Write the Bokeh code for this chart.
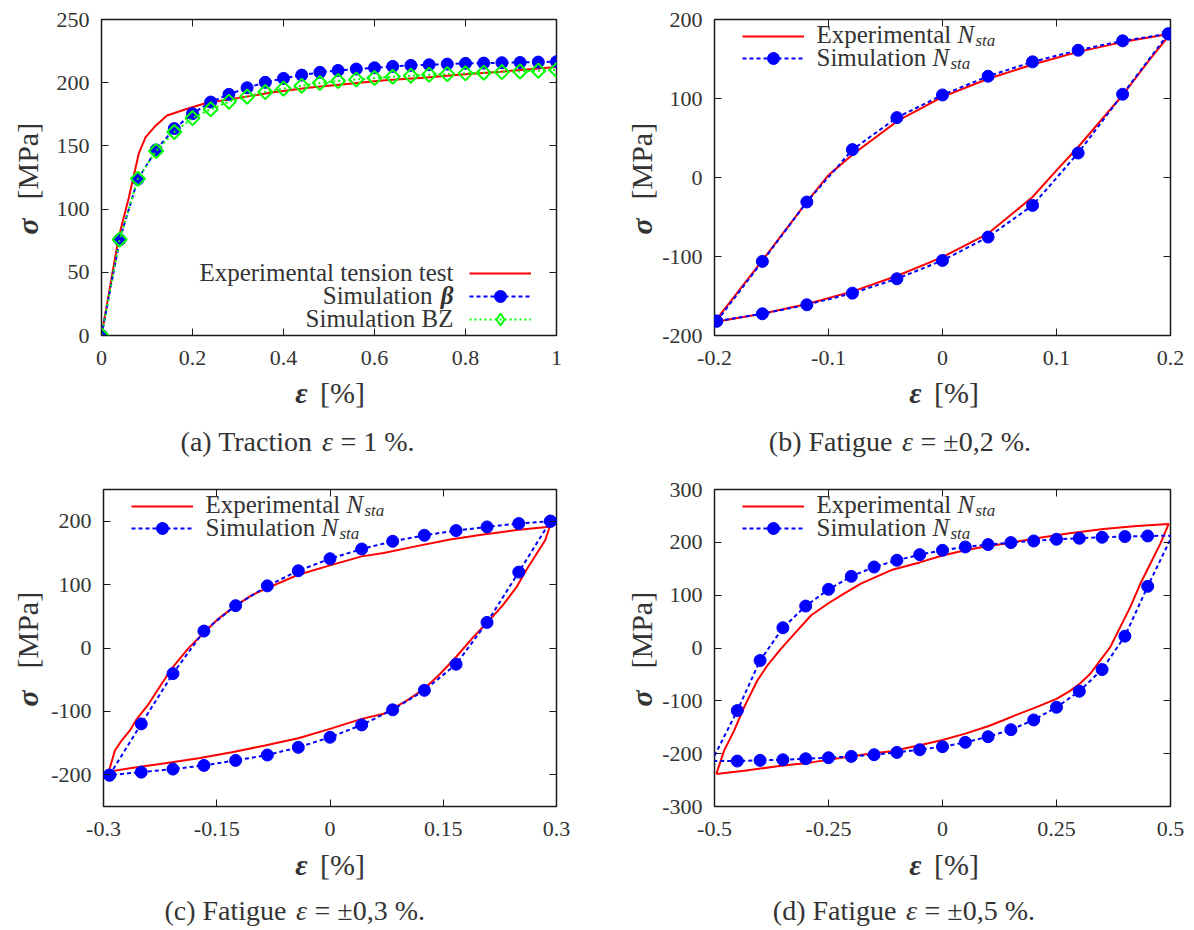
import numpy as np
from bokeh.plotting import figure
from bokeh.models import (Label, Legend, LegendItem, LinearAxis, FixedTicker,
                          Range1d, CustomJSTickFormatter)
from bokeh.layouts import column, row
from bokeh.core.properties import value
from bokeh.embed import file_html
from bokeh.resources import INLINE

# ---------------------------------------------------------------- data
# (a) Traction eps = 1 %
a_exp_eps = [0.0, 0.038, 0.06, 0.082, 0.097, 0.119, 0.144, 0.185, 0.23, 0.285,
             0.37, 0.454, 0.539, 0.623, 0.708, 0.792, 0.877, 1.0]
a_exp_sig = [0, 78, 109, 144, 157, 166, 174, 179, 184, 187,
             192, 196, 199, 202, 204, 206.5, 208.7, 212.4]
a_sim_eps = [0.00, 0.04, 0.08, 0.12, 0.16, 0.20, 0.24, 0.28, 0.32, 0.36, 0.40, 0.44, 0.48,
             0.52, 0.56, 0.60, 0.64, 0.68, 0.72, 0.76, 0.80, 0.84, 0.88, 0.92, 0.96, 1.00]
a_beta_sig = [0, 75.8, 123.7, 146.8, 163.7, 175.5, 184.7, 190.8, 196, 200.3, 203.4, 206, 208.2,
              209.7, 210.8, 211.8, 212.9, 213.7, 214.2, 214.7, 215.3, 215.5, 215.8, 216, 216.3, 216.6]
a_bz_sig = [0, 76, 124, 146, 161, 172, 179, 185, 189, 192.6, 195.3, 197.6, 199.7,
            201.3, 202.6, 203.7, 204.7, 205.5, 206.3, 206.8, 207.4, 207.9, 208.4, 208.9, 209.5, 210]
a_xticks = [0, 0.2, 0.4, 0.6, 0.8, 1]
a_yticks = [0, 50, 100, 150, 200, 250]

# (b) Fatigue eps = +-0.2 %
b_exp_eps_up = [-0.2, -0.158, -0.118, -0.1, -0.078, -0.039, 0.0, 0.04, 0.079, 0.119, 0.159, 0.2]
b_exp_sig_up = [-183, -105, -29, 3, 30, 72, 102, 125, 143, 159, 171.7, 182]
b_exp_eps_dn = [0.2, 0.181, 0.159, 0.119, 0.1, 0.079, 0.04, 0.0, -0.039, -0.078, -0.118, -0.158, -0.2]
b_exp_sig_dn = [182, 148, 106, 38.6, 9, -24.7, -71, -100.7, -124, -143.8, -159.9, -172.5, -183]
b_sim_eps_up = [-0.198, -0.158, -0.119, -0.079, -0.040, 0.0, 0.040, 0.079, 0.119, 0.158, 0.198]
b_sim_sig_up = [-181.8, -106.2, -31, 35.3, 75.8, 104.5, 128.2, 146.4, 161.1, 173, 181.8]
b_sim_eps_dn = [0.198, 0.158, 0.119, 0.079, 0.040, 0.0, -0.040, -0.079, -0.119, -0.158, -0.198]
b_sim_sig_dn = [181.8, 105.4, 31, -35.3, -75.4, -105, -128.2, -146.4, -161.1, -172.5, -181.8]
b_xticks = [-0.2, -0.1, 0, 0.1, 0.2]
b_yticks = [-200, -100, 0, 100, 200]

# (c) Fatigue eps = +-0.3 %
c_exp_eps_up = [-0.293, -0.285, -0.276, -0.265, -0.256, -0.240, -0.227, -0.210, -0.188, -0.167,
                -0.148, -0.126, -0.104, -0.084, -0.042, 0.0, 0.042, 0.071, 0.115, 0.159,
                0.203, 0.247, 0.291]
c_exp_sig_up = [-195, -162, -146, -130, -112, -88, -64, -33, -1, 24,
                46, 66, 83, 94, 115.5, 130.3, 144.5, 150, 160.7, 171.3,
                179.2, 186, 191.3]
c_exp_eps_dn = [0.291, 0.285, 0.260, 0.247, 0.229, 0.209, 0.190, 0.167, 0.146, 0.125, 0.102,
                0.071, 0.042, 0.0, -0.042, -0.068, -0.086, -0.130, -0.174, -0.218, -0.263, -0.293]
c_exp_sig_dn = [191.3, 170, 123, 96, 67.5, 41, 17.4, -14.2, -40.6, -64.3, -82.7,
                -103.8, -111.8, -127.6, -142.4, -149.1, -153.9, -164.4, -173.9, -181.8, -189.2, -195]
c_sim_eps_up = [-0.292, -0.250, -0.208, -0.167, -0.125, -0.083, -0.042, 0.0,
                0.042, 0.083, 0.125, 0.167, 0.208, 0.250, 0.292]
c_sim_sig_up = [-200.5, -119.7, -40.4, 26.7, 66.8, 98, 121.8, 140.8,
                156.1, 168.3, 177.8, 185.2, 191, 196.3, 200]
c_sim_eps_dn = [0.292, 0.250, 0.208, 0.167, 0.125, 0.083, 0.042, 0.0,
                -0.042, -0.083, -0.125, -0.167, -0.208, -0.250, -0.292]
c_sim_sig_dn = [200, 119.7, 40.4, -25.6, -66.8, -97.5, -121.3, -140.8,
                -156.7, -168.8, -177.3, -185.2, -191, -195.8, -200.5]
c_xticks = [-0.3, -0.15, 0, 0.15, 0.3]
c_yticks = [-200, -100, 0, 100, 200]

# (d) Fatigue eps = +-0.5 %
d_exp_eps_up = [-0.496, -0.479, -0.457, -0.435, -0.406, -0.384, -0.354, -0.321, -0.288, -0.251,
                -0.215, -0.178, -0.112, -0.05, 0.0, 0.05, 0.1, 0.132, 0.206, 0.279,
                0.353, 0.426, 0.496]
d_exp_sig_up = [-238.6, -194.3, -156.3, -112, -61.4, -32.9, -1.3, 30.4, 62, 84.2,
                103.2, 122.2, 147.5, 162, 175, 185, 193, 197, 207.6, 217,
                225.3, 231, 234.8]
d_exp_eps_dn = [0.496, 0.478, 0.456, 0.434, 0.412, 0.39, 0.368, 0.346, 0.324, 0.301, 0.279,
                0.25, 0.206, 0.162, 0.132, 0.1, 0.05, 0.0, -0.05, -0.112, -0.151, -0.215,
                -0.288, -0.362, -0.435, -0.496]
d_exp_sig_dn = [234.8, 198, 160, 122, 77.8, 40, 1.9, -23.4, -48.7, -67.7, -81.6,
                -96.2, -112, -126.6, -137.3, -148, -162, -174, -184, -195.6, -199.4, -207,
                -216.5, -224, -232.3, -238.6]
d_sim_eps_up = [-0.5, -0.45, -0.4, -0.35, -0.3, -0.25, -0.2, -0.15, -0.1, -0.05, 0.0,
                0.05, 0.1, 0.15, 0.2, 0.25, 0.3, 0.35, 0.4, 0.45, 0.5]
d_sim_sig_up = [-204, -118.5, -23.7, 38.3, 79.4, 111, 135.6, 153.3, 166, 176.7, 184.9,
                191.3, 195.7, 199.5, 202.6, 205.8, 207.7, 209.6, 210.9, 212.1, 212.5]
d_sim_eps_dn = [0.5, 0.45, 0.4, 0.35, 0.3, 0.25, 0.2, 0.15, 0.1, 0.05, 0.0,
                -0.05, -0.1, -0.15, -0.2, -0.25, -0.3, -0.35, -0.4, -0.45, -0.5]
d_sim_sig_dn = [206, 116.7, 22.4, -40.8, -81.9, -112.2, -136.2, -154.6, -167.9, -178.6, -186.8,
                -192.5, -197.6, -202, -205.2, -207.7, -209.6, -211.5, -212.7, -214, -214]
d_xticks = [-0.5, -0.25, 0, 0.25, 0.5]
d_yticks = [-300, -200, -100, 0, 100, 200, 300]

# captions: (text before the italic epsilon, text after it)
captions = [("(a) Traction", "= 1 %."), ("(b) Fatigue", "= ±0,2 %."),
            ("(c) Fatigue", "= ±0,3 %."), ("(d) Fatigue", "= ±0,5 %.")]

# ---------------------------------------------------------------- style
FONT = "Liberation Serif"
TXT = "#333333"
RED = "#ff0000"
BLUE = "#0000ff"
GREEN = "#00ff00"
FRAME = "#1a1a1a"
ROT_SHIFT = 43   # rotated labels are drawn this much higher than asked for


def blank(width, height):
    f = figure(width=width, height=height, x_range=Range1d(0, 1), y_range=Range1d(0, 1),
               output_backend="svg", toolbar_location=None,
               x_axis_type=None, y_axis_type=None, min_border=0)
    f.outline_line_color = None
    f.background_fill_color = "white"
    f.border_fill_color = "white"
    return f


def panel(width, height, left, right, top, bottom, xr, yr, xticks, yticks):
    p = figure(width=width, height=height, x_range=Range1d(*xr), y_range=Range1d(*yr),
               output_backend="svg", toolbar_location=None,
               x_axis_type=None, y_axis_type=None,
               min_border_left=left, min_border_right=right,
               min_border_top=top, min_border_bottom=bottom)
    p.outline_line_color = FRAME
    p.outline_line_width = 1.5
    p.background_fill_color = "white"
    p.border_fill_color = "white"
    for side, ticks, show in (("below", xticks, True), ("above", xticks, False),
                              ("left", yticks, True), ("right", yticks, False)):
        ax = LinearAxis(ticker=FixedTicker(ticks=ticks, minor_ticks=[]),
                        formatter=CustomJSTickFormatter(code="return tick.toString();"))
        ax.axis_line_color = None
        ax.major_tick_in = 7
        ax.major_tick_out = 0
        ax.major_tick_line_color = FRAME
        ax.major_tick_line_width = 1
        ax.minor_tick_line_color = None
        ax.major_label_text_font = FONT
        if show:
            ax.major_label_text_font_size = "22px"
            ax.major_label_text_color = TXT
            ax.major_label_standoff = 15 if side == "below" else 12
        else:
            ax.major_label_text_font_size = "1px"
            ax.major_label_text_color = None
            ax.major_label_standoff = 0
        p.add_layout(ax, side)
    return p


def lab(p, x, y, text, size, style="normal", align="left", baseline="middle", angle=0.0):
    p.add_layout(Label(x=x, y=y, x_units="screen", y_units="screen", text=text,
                       text_font=FONT, text_font_size=f"{size}px", text_font_style=style,
                       text_color=TXT, text_align=align, text_baseline=baseline, angle=angle))


def legend_row(p, renderers, x, yc):
    # one legend entry per row; sample drawn in a 62x30 box centred at height yc
    leg = Legend(items=[LegendItem(label=value(" "), renderers=renderers)],
                 location=(x, yc - 15), orientation="vertical", glyph_width=62, glyph_height=30,
                 spacing=0, padding=0, margin=0, label_standoff=0, label_width=0,
                 label_height=30, label_text_font_size="1px", label_text_color=None,
                 border_line_color=None, background_fill_alpha=0)
    p.add_layout(leg)


def sim(p, x, y, marker_mask=None):
    x = np.asarray(x, dtype=float)
    y = np.asarray(y, dtype=float)
    ln = p.line(x, y, line_color=BLUE, line_width=2, line_dash="4 3")
    if marker_mask is None:
        marker_mask = np.ones_like(x, dtype=bool)
    sc = p.scatter(x[marker_mask], y[marker_mask], marker="circle", size=12,
                   fill_color=BLUE, line_color=BLUE)
    return [ln, sc]


def nsta_legend(p, H, rexp, rsim):
    legend_row(p, [rexp], 28, H - 16.5)
    legend_row(p, rsim, 28, H - 39)
    lab(p, 102, H - 14.5, "Experimental", 25)
    lab(p, 243, H - 14.5, "N", 25, "italic")
    lab(p, 261, H - 21, "sta", 17, "italic")
    lab(p, 102, H - 37.5, "Simulation", 25)
    lab(p, 218, H - 37.5, "N", 25, "italic")
    lab(p, 236, H - 44, "sta", 17, "italic")


def ytitle(width, height, cx, sig_start, mpa_start):
    f = blank(width, height)
    lab(f, cx, sig_start - ROT_SHIFT, "σ", 30, "bold italic", "left", angle=np.pi / 2)
    lab(f, cx, mpa_start - ROT_SHIFT, "[MPa]", 30, "normal", "left", angle=np.pi / 2)
    return f


def bottom(width, height, eps_x, pct_x, title_y, cap_eps_x, cap_y, caption):
    f = blank(width, height)
    lab(f, eps_x, title_y, "ε", 30, "bold italic", "center")
    lab(f, pct_x, title_y, "[%]", 30, "normal", "center")
    before, after = caption
    lab(f, cap_eps_x - 15, cap_y, before, 28, "normal", "right")
    lab(f, cap_eps_x, cap_y, "ε", 28, "italic", "center")
    lab(f, cap_eps_x + 13, cap_y, after, 28, "normal", "left")
    return f


# row geometry (page origin at top-left of the window)
R1_TOP, R1_FRAME, R1_BOT = 19, 316, 42
R2_TOP, R2_FRAME, R2_BOT = 24, 317, 42
R1_H = R1_TOP + R1_FRAME + R1_BOT      # 377 -> plot rows end at y=377
R2_H = R2_TOP + R2_FRAME + R2_BOT      # 383 -> plot rows end at y=848
B1_H = 465 - R1_H
B2_H = 465 - R2_H

# ---------------------------------------------------------------- (a)
pa = panel(554, R1_H, 53, 46, R1_TOP, R1_BOT, (0, 1), (0, 250), a_xticks, a_yticks)
ra = pa.line(a_exp_eps, a_exp_sig, line_color=RED, line_width=2)
rb = sim(pa, a_sim_eps, a_beta_sig)
gl = pa.line(a_sim_eps, a_bz_sig, line_color=GREEN, line_width=2, line_dash="2 3")
gs = pa.scatter(a_sim_eps, a_bz_sig, marker="square", angle=45, angle_units="deg", size=10,
                fill_color=None, line_color=GREEN, line_width=2)
# same BZ points, hidden: only used for the diamond sample in the legend
gk = pa.scatter(a_sim_eps, a_bz_sig, marker="diamond", size=14, fill_color=None,
                line_color=GREEN, line_width=2, visible=False)
legend_row(pa, [ra], 368, 62.5)
legend_row(pa, rb, 368, 39.5)
legend_row(pa, [gl, gk], 368, 16.5)
lab(pa, 352, 63.5, "Experimental tension test", 25, align="right")
lab(pa, 331, 40.5, "Simulation", 25, align="right")
lab(pa, 352, 40.5, "β", 25, "bold italic", align="right")
lab(pa, 352, 17.5, "Simulation BZ", 25, align="right")
ya = ytitle(48, R1_H, 27, R1_H - 233, R1_H - 198)
ba = bottom(602, B1_H, 301, 342, B1_H - 391.5 + R1_H, 327, 24, captions[0])

# ---------------------------------------------------------------- (b)
pb = panel(536, R1_H, 56, 24, R1_TOP, R1_BOT, (-0.2, 0.2), (-200, 200), b_xticks, b_yticks)
rexp = pb.line(b_exp_eps_up + b_exp_eps_dn, b_exp_sig_up + b_exp_sig_dn, line_color=RED, line_width=2)
rsim = sim(pb, b_sim_eps_up + b_sim_eps_dn, b_sim_sig_up + b_sim_sig_dn)
nsta_legend(pb, 316, rexp, rsim)
yb = ytitle(56, R1_H, 38.5, R1_H - 233, R1_H - 198)
bb = bottom(592, B1_H, 313, 354, B1_H - 391.5 + R1_H, 305, 24, captions[1])

# ---------------------------------------------------------------- (c)
pc = panel(554, R2_H, 53, 46, R2_TOP, R2_BOT, (-0.3, 0.3), (-250, 250), c_xticks, c_yticks)
rexp = pc.line(c_exp_eps_up + c_exp_eps_dn, c_exp_sig_up + c_exp_sig_dn, line_color=RED, line_width=2)
rsim = sim(pc, c_sim_eps_up + c_sim_eps_dn, c_sim_sig_up + c_sim_sig_dn)
nsta_legend(pc, 317, rexp, rsim)
yc = ytitle(48, R2_H, 27, R2_H - 240, R2_H - 202)
bc = bottom(602, B2_H, 301, 342, B2_H - 398.5 + R2_H, 301, 20, captions[2])

# ---------------------------------------------------------------- (d)
pd_ = panel(536, R2_H, 56, 24, R2_TOP, R2_BOT, (-0.5, 0.5), (-300, 300), d_xticks, d_yticks)
rexp = pd_.line(d_exp_eps_up + d_exp_eps_dn, d_exp_sig_up + d_exp_sig_dn, line_color=RED, line_width=2)
d_x_all = np.array(d_sim_eps_up + d_sim_eps_dn)
rsim = sim(pd_, d_x_all, d_sim_sig_up + d_sim_sig_dn, marker_mask=np.abs(d_x_all) < 0.499)
nsta_legend(pd_, 317, rexp, rsim)
yd = ytitle(56, R2_H, 38.5, R2_H - 240, R2_H - 202)
bd = bottom(592, B2_H, 313, 354, B2_H - 398.5 + R2_H, 309, 20, captions[3])

layout = column(
    row(column(row(ya, pa), ba), column(row(yb, pb), bb)),
    row(column(row(yc, pc), bc), column(row(yd, pd_), bd)),
)
open("out.html", "w").write(file_html(layout, INLINE))
